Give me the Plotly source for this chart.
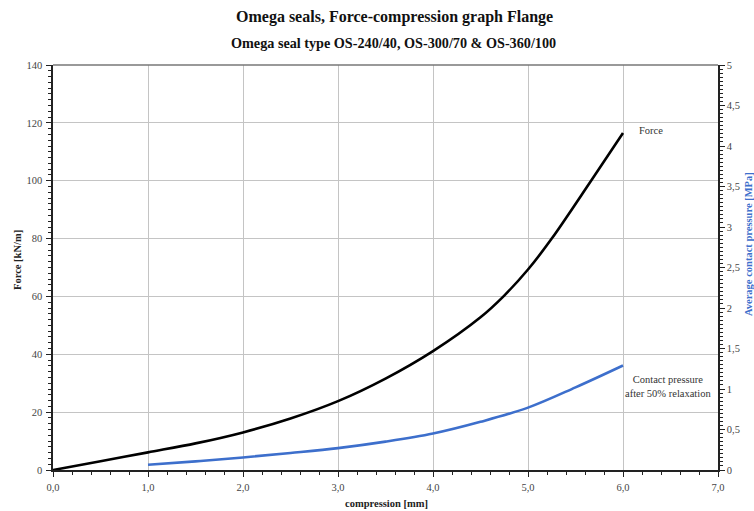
import plotly.graph_objects as go

# Data
compression = [0.0, 0.5, 1.0, 1.5, 2.0, 2.5, 3.0, 3.5, 4.0, 4.5, 4.75, 5.0, 5.25, 5.65, 6.0]
force = [0.0, 3.0, 6.1, 9.2, 13.0, 17.8, 23.8, 31.6, 41.1, 52.8, 60.3, 69.3, 80.0, 99.3, 116.5]

compression_p = [1.0, 1.5, 2.0, 2.5, 3.0, 3.5, 4.0, 4.5, 5.0, 5.5, 6.0]
pressure = [0.065, 0.106, 0.155, 0.21, 0.27, 0.35, 0.45, 0.595, 0.77, 1.02, 1.29]

x_ticks = [0, 1, 2, 3, 4, 5, 6, 7]
x_ticktext = ["0,0", "1,0", "2,0", "3,0", "4,0", "5,0", "6,0", "7,0"]
y2_ticks = [0, 0.5, 1, 1.5, 2, 2.5, 3, 3.5, 4, 4.5, 5]
y2_ticktext = ["0", "0,5", "1", "1,5", "2", "2,5", "3", "3,5", "4", "4,5", "5"]

SERIF = "Liberation Serif, DejaVu Serif, serif"
BLUE = "#3d6fcc"

ML, MR, MT, MB = 53, 36, 65, 41
W, H = 754, 511
PW, PH = W - ML - MR, H - MT - MB


def px(x):
    return (x - ML) / PW


def py(y):
    return (H - MB - y) / PH


fig = go.Figure()
fig.add_trace(go.Scatter(x=compression, y=force, mode="lines",
                         line=dict(color="black", width=2.6, shape="spline", smoothing=0.9),
                         name="Force", showlegend=False))
fig.add_trace(go.Scatter(x=compression_p, y=pressure, mode="lines", yaxis="y2",
                         line=dict(color=BLUE, width=2.6, shape="spline", smoothing=1.0),
                         name="Contact pressure", showlegend=False))

fig.update_layout(
    width=W, height=H,
    margin=dict(l=ML, r=MR, t=MT, b=MB),
    paper_bgcolor="white", plot_bgcolor="white",
    font=dict(family=SERIF, size=10, color="#333333"),
    xaxis=dict(range=[0, 7], tickvals=x_ticks, ticktext=x_ticktext, automargin=False,
               showgrid=True, gridcolor="#c4c4c4", gridwidth=1,
               showline=True, linecolor="#222222", linewidth=1.5, mirror=False,
               ticks="outside", ticklen=5, tickcolor="#222222", ticklabelstandoff=2,
               minor=dict(dtick=0.2, ticks="outside", ticklen=3, tickcolor="#222222", showgrid=False),
               zeroline=False,
               tickfont=dict(size=10.5, color="#444444")),
    yaxis=dict(range=[0, 140], dtick=20, automargin=False,
               showgrid=True, gridcolor="#c4c4c4", gridwidth=1,
               showline=True, linecolor="#222222", linewidth=1.5,
               ticks="outside", ticklen=5, tickcolor="#222222", ticklabelstandoff=2,
               minor=dict(dtick=2, ticks="outside", ticklen=3, tickcolor="#222222", showgrid=False),
               zeroline=False,
               tickfont=dict(size=10.5, color="#444444")),
    yaxis2=dict(range=[0, 5], overlaying="y", side="right", automargin=False,
                tickvals=y2_ticks, ticktext=y2_ticktext,
                showgrid=False, showline=True, linecolor="#222222", linewidth=1.5,
                ticks="outside", ticklen=5, tickcolor="#222222", ticklabelstandoff=0,
                minor=dict(dtick=0.05, ticks="outside", ticklen=3, tickcolor="#222222", showgrid=False),
                zeroline=False,
                tickfont=dict(size=10.5, color="#444444")),
    shapes=[dict(type="line", xref="paper", yref="paper", x0=0, x1=1, y0=1, y1=1,
                 line=dict(color="#777777", width=1.5))],
    annotations=[
        dict(text="<b>Omega seals, Force-compression graph Flange</b>", xref="paper", yref="paper",
             x=px(395), y=py(17), showarrow=False, font=dict(size=16, color="#111111"),
             xanchor="center", yanchor="middle"),
        dict(text="<b>Omega seal type OS-240/40, OS-300/70 &amp; OS-360/100</b>", xref="paper", yref="paper",
             x=px(393), y=py(43), showarrow=False, font=dict(size=14.2, color="#111111"),
             xanchor="center", yanchor="middle"),
        dict(text="<b>compression [mm]</b>", xref="paper", yref="paper",
             x=px(386), y=py(503), showarrow=False, font=dict(size=10.5, color="#222222"),
             xanchor="center", yanchor="middle"),
        dict(text="<b>Force [kN/m]</b>", xref="paper", yref="paper", textangle=-90,
             x=px(17), y=py(260), showarrow=False, font=dict(size=10.5, color="#222222"),
             xanchor="center", yanchor="middle"),
        dict(text="<b>Average contact pressure [MPa]</b>", xref="paper", yref="paper", textangle=-90,
             x=px(748), y=py(244), showarrow=False, font=dict(size=10.5, color=BLUE),
             xanchor="center", yanchor="middle"),
        dict(text="Force", xref="paper", yref="paper", x=px(637), y=py(130), showarrow=False,
             font=dict(size=10.5, color="#333333"), xanchor="left", yanchor="middle"),
        dict(text="Contact pressure<br>after 50% relaxation", xref="paper", yref="paper",
             x=px(668), y=py(386), showarrow=False, font=dict(size=10.5, color="#333333"),
             xanchor="center", yanchor="middle", align="center"),
    ],
)

fig.write_html("out.html")
